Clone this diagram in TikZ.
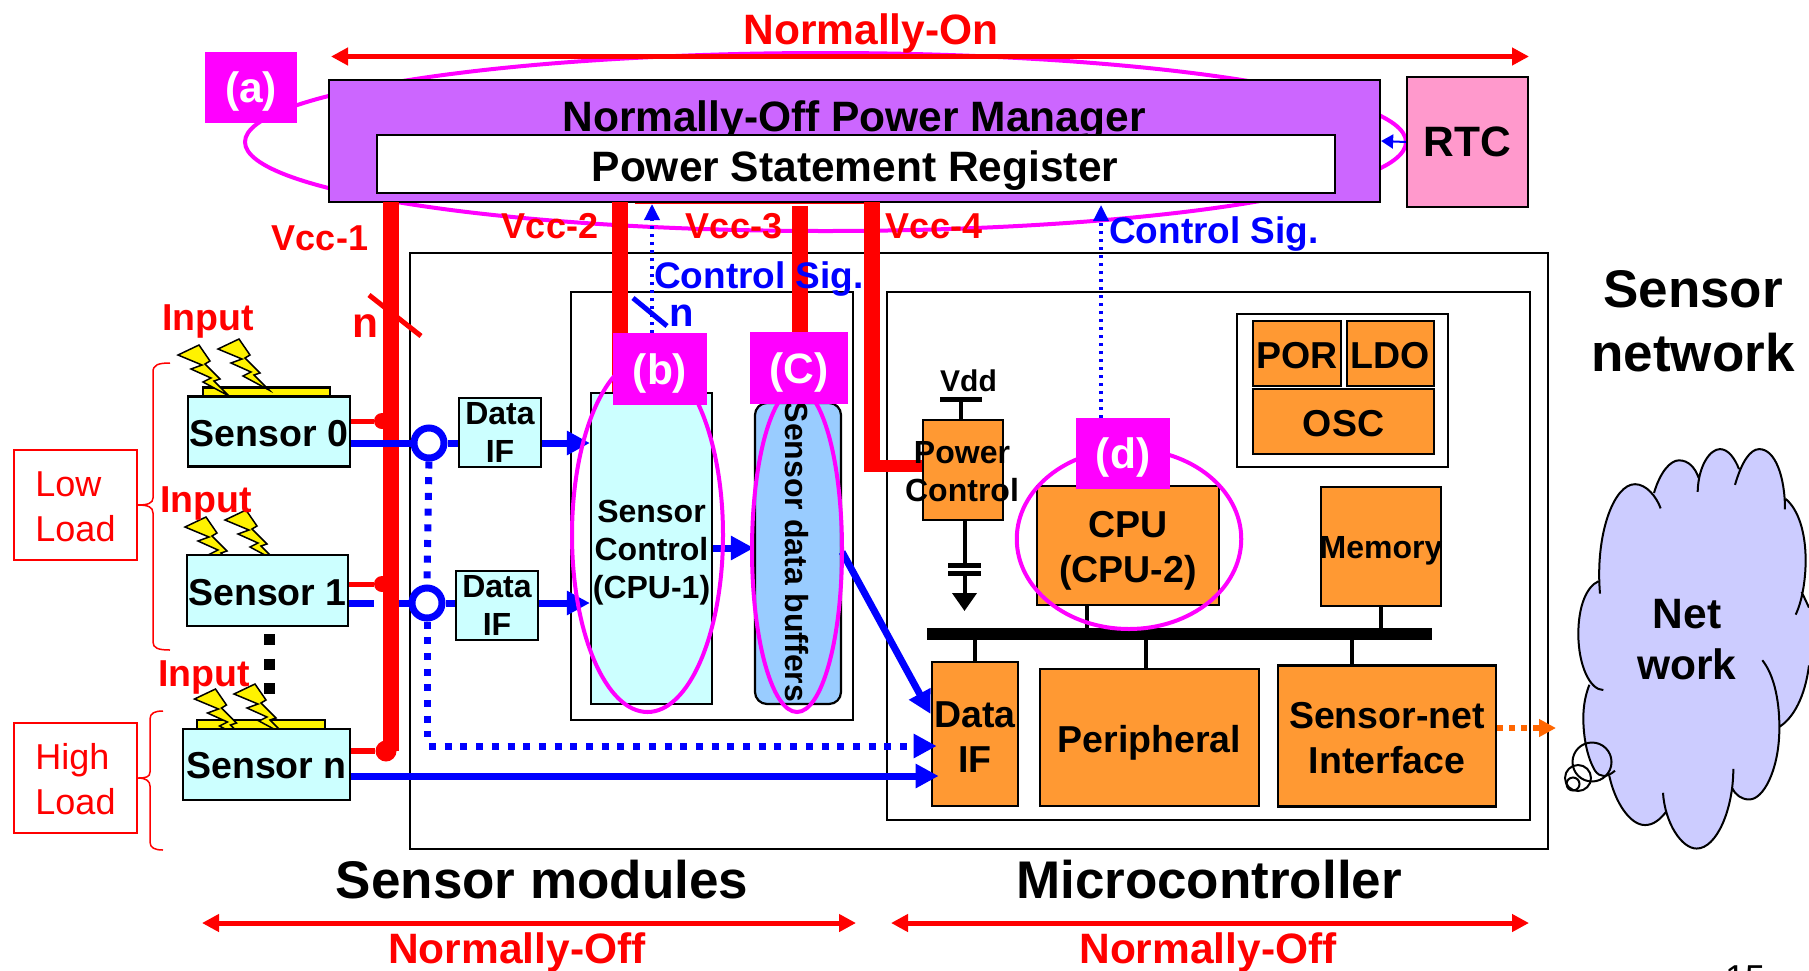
\documentclass[tikz,border=0pt]{standalone}
\usepackage{fontspec}
\setmainfont{Liberation Sans}
\usepackage{xcolor}
\usetikzlibrary{arrows.meta,positioning,calc,shapes.geometric}
\definecolor{sensorcyan}{RGB}{204,255,255}
\definecolor{pmgrpurple}{RGB}{204,102,255}
\definecolor{rtcpink}{RGB}{255,153,204}
\definecolor{mcuorange}{RGB}{255,153,51}
\definecolor{bufblue}{RGB}{153,204,255}
\definecolor{cloudblue}{RGB}{204,204,255}
\definecolor{puremagenta}{RGB}{255,0,255}
\definecolor{purered}{RGB}{255,0,0}
\definecolor{pureblue}{RGB}{0,0,255}
\definecolor{dotorange}{RGB}{255,102,0}
\tikzset{
  txtxl/.style={font=\bfseries\fontsize{53}{64}\selectfont, inner sep=0pt},
  txtlg/.style={font=\bfseries\fontsize{42.5}{51}\selectfont, inner sep=0pt},
  txtmd/.style={font=\bfseries\fontsize{37.5}{45}\selectfont, inner sep=0pt, align=center},
  txtsm/.style={font=\bfseries\fontsize{32}{38}\selectfont, inner sep=0pt, align=center},
  box/.style={draw, line width=2.2pt, inner sep=0pt},
  sensorbox/.style={box, fill=sensorcyan},
  mcubox/.style={box, fill=mcuorange},
  tag/.style={fill=puremagenta, text=white, txtlg, text depth=0pt},
  ring/.style={draw=puremagenta, line width=4pt, ellipse, inner sep=0pt},
  loadbox/.style={draw=purered, line width=1.5pt, inner sep=0pt},
  loadtxt/.style={text=purered, inner sep=0pt, align=left, font=\fontsize{36}{45}\selectfont},
  brace/.style={draw=purered, line width=1.5pt},
  span/.style={draw=purered, line width=5pt, {Triangle[length=17pt,width=17pt]}-{Triangle[length=17pt,width=17pt]}},
  vccbar/.style={draw=purered, line width=16pt},
  vcclabel/.style={text=purered, inner sep=0pt, font=\bfseries\fontsize{36}{42}\selectfont},
  datalink/.style={draw=pureblue, line width=7pt},
  dataarrow/.style={datalink, -{Triangle[length=23pt,width=23pt]}},
  datadots/.style={datalink, dash pattern=on 7pt off 8.7pt},
  ctrlsig/.style={draw=pureblue, line width=3.5pt, dash pattern=on 3.5pt off 4.5pt, -{Triangle[length=16pt,width=15pt]}},
  sigtxt/.style={text=pureblue, inner sep=0pt, font=\bfseries\fontsize{37}{44}\selectfont},
  stem/.style={draw=black, line width=4pt},
  lightning/.pic={
    \draw[fill=yellow, line width=1.5pt] (0,0) -- (21,-10) -- (32,6) -- (27,9) -- (42,24) -- (36,26) -- (51,41)
      -- (25,27) -- (33,23) -- (13,14) -- (24,10) -- cycle;
  }
}
\newcommand{\netcloud}{
  (300,495) .. controls (285,330) and (340,183) .. (405,183) .. controls (440,183) and (470,220) .. (482,252)
  (462,208) .. controls (480,150) and (510,115) .. (537,115) .. controls (565,115) and (585,135) .. (596,165)
  (593,205) .. controls (595,130) and (630,83) .. (660,83) .. controls (685,83) and (705,110) .. (717,140)
  (705,185) .. controls (725,120) and (750,83) .. (778,83) .. controls (825,83) and (855,160) .. (855,255)
  (857,225) .. controls (895,255) and (917,320) .. (917,400) .. controls (917,460) and (905,520) .. (887,555)
  (905,490) .. controls (912,505) and (920,520) .. (927,535)
  (927,700) .. controls (915,790) and (880,850) .. (838,875)
  (787,685) .. controls (825,730) and (840,810) .. (838,890) .. controls (835,1000) and (790,1082) .. (748,1082) .. controls (725,1082) and (707,1070) .. (697,1050)
  (700,995) .. controls (700,1110) and (650,1222) .. (590,1222) .. controls (545,1222) and (495,1150) .. (489,1063)
  (500,1115) .. controls (480,1140) and (460,1155) .. (435,1155) .. controls (390,1155) and (345,1090) .. (328,1015)
  (345,1000) .. controls (320,1020) and (300,1020) .. (285,1000) .. controls (260,960) and (250,900) .. (250,850) .. controls (250,810) and (258,780) .. (268,755)
  (310,770) .. controls (270,770) and (235,700) .. (235,610) .. controls (235,530) and (260,475) .. (295,460)
}

\begin{document}
\begin{tikzpicture}[x=1pt, y=-1pt, >=Latex]
  \useasboundingbox (0,0) rectangle (1809,970);
  \fill[white] (0,0) rectangle (1809,970);

  % frames
  \node[ring, minimum width=1161pt, minimum height=178pt] (ringa) at (825.5,142) {};
  \node[box, minimum width=1138pt, minimum height=596pt] (outer) at (979,551) {};
  \node[box, minimum width=282pt, minimum height=428pt] (sensbox) at (712,506) {};
  \node[box, minimum width=643pt, minimum height=528pt] (mcuframe) at (1208.5,556) {};
  \node[box, fill=pmgrpurple, minimum width=1051pt, minimum height=122pt] (pmgr) at (854.5,141) {};
  \node[txtlg] (pmgrtxt) at (854,120.5) {Normally-Off Power Manager};
  \node[box, fill=white, minimum width=958pt, minimum height=58pt] (reg) at (856,164) {};
  \node[txtlg] (regtxt) at (855,171) {Power Statement Register};
  \node[box, fill=rtcpink, txtlg, minimum width=121pt, minimum height=130pt] (rtc) at (1467.5,142) {RTC};
  \draw[pureblue, line width=2pt, -{Triangle[length=12pt,width=14pt]}] (rtc.west) -- (pmgr.east);

  % normally-on / normally-off spans
  \coordinate (onl) at (331,56.5);
  \coordinate (onr) at (1529,56.5);
  \draw[span] (onl) -- (onr);
  \node[txtlg, text=purered] (ontxt) at (871,33.5) {Normally-On};
  \coordinate (offal) at (202,923);
  \coordinate (offar) at (856,923);
  \coordinate (offbl) at (891,923);
  \coordinate (offbr) at (1529,923);
  \draw[span] (offal) -- (offar);
  \draw[span] (offbl) -- (offbr);
  \node[txtlg, text=purered] (offa) at (517,952.5) {Normally-Off};
  \node[txtlg, text=purered] (offb) at (1208,952.5) {Normally-Off};
  \node[txtxl] (sensmod) at (542,880) {Sensor modules};
  \node[txtxl] (micro) at (1209,880) {Microcontroller};
  \node[txtxl, align=center] (sensnet) at (1693,321) {Sensor\\network};

  % sensors
  \node[box, fill=yellow, minimum width=127pt, minimum height=9pt] (strip0) at (266.5,392) {};
  \node[box, fill=yellow, minimum width=128pt, minimum height=9pt] (stripn) at (261,724.5) {};
  \foreach \bx/\by in {178/355, 218/349, 185/527, 225/520, 194.5/699, 234/694}
    \pic at (\bx,\by) {lightning};
  \node[sensorbox, minimum width=162pt, minimum height=70pt] (sensor0) at (269,431.5) {};
  \node[sensorbox, minimum width=161pt, minimum height=71pt] (sensor1) at (267.5,590.5) {};
  \node[sensorbox, minimum width=167pt, minimum height=71pt] (sensorn) at (266.5,764.5) {};
  \node[txtmd] (sensor0txt) at (269,434) {Sensor 0};
  \node[txtmd] (sensor1txt) at (267.5,593) {Sensor 1};
  \node[txtmd] (sensorntxt) at (266.5,765.5) {Sensor n};
  \node[txtmd, text=purered] (input0) at (208,321.5) {Input};
  \node[txtmd, text=purered] (input1) at (206,503) {Input};
  \node[txtmd, text=purered] (inputn) at (204,677.5) {Input};
  \coordinate (morea) at (269,634);
  \coordinate (moreb) at (269,695);
  \draw[line width=11pt, dash pattern=on 11pt off 13.5pt] (morea) -- (moreb);

  % load classes
  \node[loadbox, minimum width=123pt, minimum height=110pt] (low) at (75.5,505) {};
  \node[loadbox, minimum width=123pt, minimum height=110pt] (high) at (75.5,778) {};
  \node[loadtxt] (lowtxt) at (75.5,507) {Low\\Load};
  \node[loadtxt] (hightxt) at (75.5,779) {High\\Load};
  \draw[brace] (170,363) .. controls (158,363) and (153,365) .. (153,372) -- (153,498)
    .. controls (153,503) and (148,505) .. (low.east) .. controls (148,505) and (153,507) .. (153,513)
    -- (153,642) .. controls (153,648) and (158,650) .. (170,650);
  \draw[brace] (163,711) .. controls (155,711) and (150,713) .. (150,719) -- (150,772)
    .. controls (150,777) and (146,778) .. (high.east) .. controls (146,778) and (150,781) .. (150,786)
    -- (150,842) .. controls (150,848) and (155,850) .. (163,850);

  % data interfaces and sensor module blocks
  \node[sensorbox, txtsm, minimum width=82pt, minimum height=69pt] (dataa) at (500,432.5) {Data\\IF};
  \node[sensorbox, txtsm, minimum width=82pt, minimum height=69pt] (datab) at (497,605.5) {Data\\IF};
  \node[sensorbox, minimum width=121pt, minimum height=311pt] (sctrl) at (651.5,548.5) {};
  \node[txtsm] (sctrltxt) at (651.5,553) {Sensor\\Control\\(CPU-1)};
  \node[box, fill=bufblue, rounded corners=12pt, minimum width=86pt, minimum height=301pt] (buffers) at (798,553.5) {};
  \node[txtsm, rotate=-90] (buftxt) at (797,552) {Sensor data buffers};

  % microcontroller blocks
  \node[mcubox, minimum width=80pt, minimum height=100pt] (pctrl) at (963,470) {};
  \node[mcubox, minimum width=182.5pt, minimum height=119pt] (cpu) at (1128,545.5) {};
  \node[txtmd] (cputxt) at (1128,551) {CPU\\(CPU-2)};
  \node[mcubox, minimum width=119.5pt, minimum height=119pt] (mem) at (1381,546.5) {};
  \node[txtsm] (memtxt) at (1381,550.5) {Memory};
  \node[box, fill=white, minimum width=211pt, minimum height=153pt] (oscbox) at (1342.5,390.5) {};
  \node[mcubox, minimum width=87.5pt, minimum height=65pt] (por) at (1297,353.5) {};
  \node[mcubox, minimum width=87pt, minimum height=65pt] (ldo) at (1390.5,353.5) {};
  \node[mcubox, minimum width=181pt, minimum height=65pt] (osc) at (1343.5,421.5) {};
  \node[txtmd] (portxt) at (1297,355.5) {POR};
  \node[txtmd] (ldotxt) at (1390.5,355.5) {LDO};
  \node[txtmd] (osctxt) at (1343.5,423.5) {OSC};
  \node[fill=black, inner sep=0pt, minimum width=505pt, minimum height=12pt] (bus) at (1179,634) {};
  \node[mcubox, minimum width=86.5pt, minimum height=144.5pt] (dataif) at (975,734) {};
  \node[mcubox, minimum width=219.5pt, minimum height=137.5pt] (periph) at (1149.5,737.5) {};
  \node[mcubox, minimum width=218.5pt, minimum height=141pt] (snet) at (1387,736) {};
  \node[txtmd] (dataiftxt) at (975,737.5) {Data\\IF};
  \node[txtmd] (periphtxt) at (1149.5,743) {Peripheral};
  \node[txtmd] (snettxt) at (1387,738.5) {Sensor-net\\Interface};
  \draw[stem] (cpu.south -| 1087,0) -- (bus.north -| 1087,0);
  \draw[stem] (mem.south) -- (mem.south |- bus.north);
  \draw[stem] (dataif.north) -- (dataif.north |- bus.south);
  \draw[stem] (periph.north -| 1146,0) -- (bus.south -| 1146,0);
  \draw[stem] (snet.north -| 1352,0) -- (bus.south -| 1352,0);

  % power control supply
  \node[txtsm, font=\bfseries\fontsize{30}{36}\selectfont] (vdd) at (968.5,381) {Vdd};
  \node[fill=black, inner sep=0pt, minimum width=42pt, minimum height=5pt] (vddbar) at (961,399) {};
  \node[fill=black, inner sep=0pt, minimum width=33pt, minimum height=5pt] (capa) at (964.5,565.5) {};
  \node[fill=black, inner sep=0pt, minimum width=33pt, minimum height=5pt] (capb) at (964.5,573.5) {};
  \coordinate (gnd) at (964.5,611);
  \draw[stem] (vddbar) -- (vddbar |- pctrl.north);
  \draw[stem] (capa |- pctrl.south) -- (capa);
  \draw[stem, -{Triangle[length=18pt,width=24pt]}] (capb) -- (gnd);

  % Vcc rails
  \coordinate (vcc1top) at (390.5,202);
  \coordinate (vcc1end) at (390.5,751);
  \coordinate (vcc2top) at (620,202);
  \coordinate (vcc3top) at (800,206);
  \coordinate (vcc4top) at (871.5,202);
  \coordinate (vcc4turn) at (871.5,466);
  \draw[vccbar] (vcc1top) -- (vcc1end);
  \draw[vccbar] (vcc2top) -- (vcc2top |- sctrl.north);
  \draw[vccbar] (vcc3top) -- (vcc3top |- buffers.north);
  \draw[vccbar] (vcc4top) -- ($(vcc4turn)+(0,6)$);
  \draw[draw=purered, line width=12pt] (vcc4turn) -- (vcc4turn -| pctrl.west);
  \draw[draw=purered, line width=1.5pt] (635,203.5) -- (880,203.5);
  \node[vcclabel] (vcc1) at (320,238) {Vcc-1};
  \node[vcclabel] (vcc2) at (550,226) {Vcc-2};
  \node[vcclabel] (vcc3) at (734,226) {Vcc-3};
  \node[vcclabel] (vcc4) at (934,226) {Vcc-4};
  \node[txtsm] (pctrltxt) at (962,472) {Power\\Control};

  % red bus taps
  \node[circle, fill=purered, inner sep=0pt, minimum size=16pt] (tap0) at (382,421) {};
  \node[circle, fill=purered, inner sep=0pt, minimum size=16pt] (tap1) at (382,584) {};
  \node[circle, fill=purered, inner sep=0pt, minimum size=21pt] (tapn) at (386,751) {};
  \draw[draw=purered, line width=5pt] (sensor0.east |- tap0) -- (tap0);
  \draw[draw=purered, line width=5pt] (sensor1.east |- tap1) -- (tap1);
  \draw[draw=purered, line width=6pt] (sensorn.east |- tapn) -- (tapn);
  \coordinate (slasha) at (369,295);
  \coordinate (slashb) at (421,336);
  \draw[draw=purered, line width=5pt] (slasha) -- (slashb);
  \node[txtlg, text=purered] (redn) at (365,326) {n};

  % data paths
  \node[circle, draw=pureblue, fill=white, line width=7pt, inner sep=0pt, minimum size=30pt] (hub0) at (429,443) {};
  \node[circle, draw=pureblue, fill=white, line width=7pt, inner sep=0pt, minimum size=30pt] (hub1) at (427,603) {};
  \coordinate (dotcorner) at (429,746);
  \coordinate (dotdrop) at (427,737);
  \draw[datadots] (hub0.south) -- (hub1.north);
  \draw[datadots] (hub1.south) -- (dotdrop);
  \draw[datadots, -{Triangle[length=23pt,width=23pt]}] (dotcorner) -- ($(dotcorner -| dataif.west)+(6,0)$);
  \draw[datalink] (sensor0.east |- hub0) -- (hub0.west);
  \draw[datalink] (hub0.east) -- (hub0 -| dataa.west);
  \draw[dataarrow] (dataa.east |- hub0) -- (sctrl.west |- hub0);
  \draw[datalink] (sensor1.east |- hub1) -- (tap1.west |- hub1);
  \draw[datalink] (399,603) -- (hub1.west);
  \draw[datalink] (hub1.east) -- (hub1 -| datab.west);
  \draw[dataarrow] (datab.east |- hub1) -- (sctrl.west |- hub1);
  \draw[dataarrow] (sensorn.east |- 0,776) -- ($(dataif.west |- 0,776)+(8,0)$);
  \draw[dataarrow] (sctrl.east |- 0,548) -- (buffers.west |- 0,548);
  \draw[dataarrow] (buffers.east |- 0,552) -- (dataif.west |- 0,714);
  \coordinate (sigtop) at (652,204);
  \draw[ctrlsig] (sigtop |- 0,333) -- (sigtop);
  \coordinate (sigmcu) at (1101,205);
  \draw[ctrlsig] (sigmcu |- 0,418) -- (sigmcu);
  \node[sigtxt] (siga) at (759,279.5) {Control Sig.};
  \node[sigtxt] (sigb) at (1214,234.5) {Control Sig.};
  \coordinate (slashc) at (633,298);
  \coordinate (slashd) at (667,326);
  \draw[draw=pureblue, line width=5pt] (slashc) -- (slashd);
  \node[sigtxt, font=\bfseries\fontsize{40}{48}\selectfont] (bluen) at (682,316) {n};

  % rings and tags
  \node[ring, minimum width=151pt, minimum height=354pt] (ringb) at (647.5,535) {};
  \node[ring, minimum width=90pt, minimum height=324pt] (ringc) at (797,550) {};
  \node[ring, minimum width=224.5pt, minimum height=180pt] (ringd) at (1129,539) {};
  \node[tag, minimum width=92pt, minimum height=71pt] (taga) at (251,87.5) {(a)};
  \node[tag, minimum width=94pt, minimum height=72pt] (tagb) at (660,369) {(b)};
  \node[tag, minimum width=98pt, minimum height=72pt] (tagc) at (799,368) {(C)};
  \node[tag, minimum width=94pt, minimum height=71pt] (tagd) at (1123,453.5) {(d)};

  % network cloud
  \begin{scope}[shift={(1500,420)}, x=0.3333pt, y=-0.3507pt]
    \path[fill=cloudblue] \netcloud (295,460) -- (462,208) -- (596,165) -- (717,140) -- (857,225) -- (905,490) -- (927,535)
      -- (927,700) -- (838,875) -- (697,1050) -- (500,1115) -- (328,1015) -- (268,755) -- cycle;
    \draw[line width=2pt] \netcloud;
  \end{scope}
  \node[txtlg, align=center] (net) at (1687,640) {Net\\work};
  \node[circle, draw, line width=2pt, inner sep=0pt, minimum size=39pt] (bubblea) at (1592,762) {};
  \node[circle, draw, line width=2pt, inner sep=0pt, minimum size=26pt] (bubbleb) at (1578,778) {};
  \node[circle, draw, line width=2pt, inner sep=0pt, minimum size=13pt] (bubblec) at (1573,784) {};
  \coordinate (dotend) at (1556,728);
  \draw[draw=dotorange, line width=6pt, dash pattern=on 6pt off 6pt, -{Triangle[length=17pt,width=17pt]}] (snet.east |- dotend) -- (dotend);

  \node[font=\fontsize{36}{42}\selectfont, inner sep=0pt] (pagenum) at (1745,978) {15};
\end{tikzpicture}
\end{document}
